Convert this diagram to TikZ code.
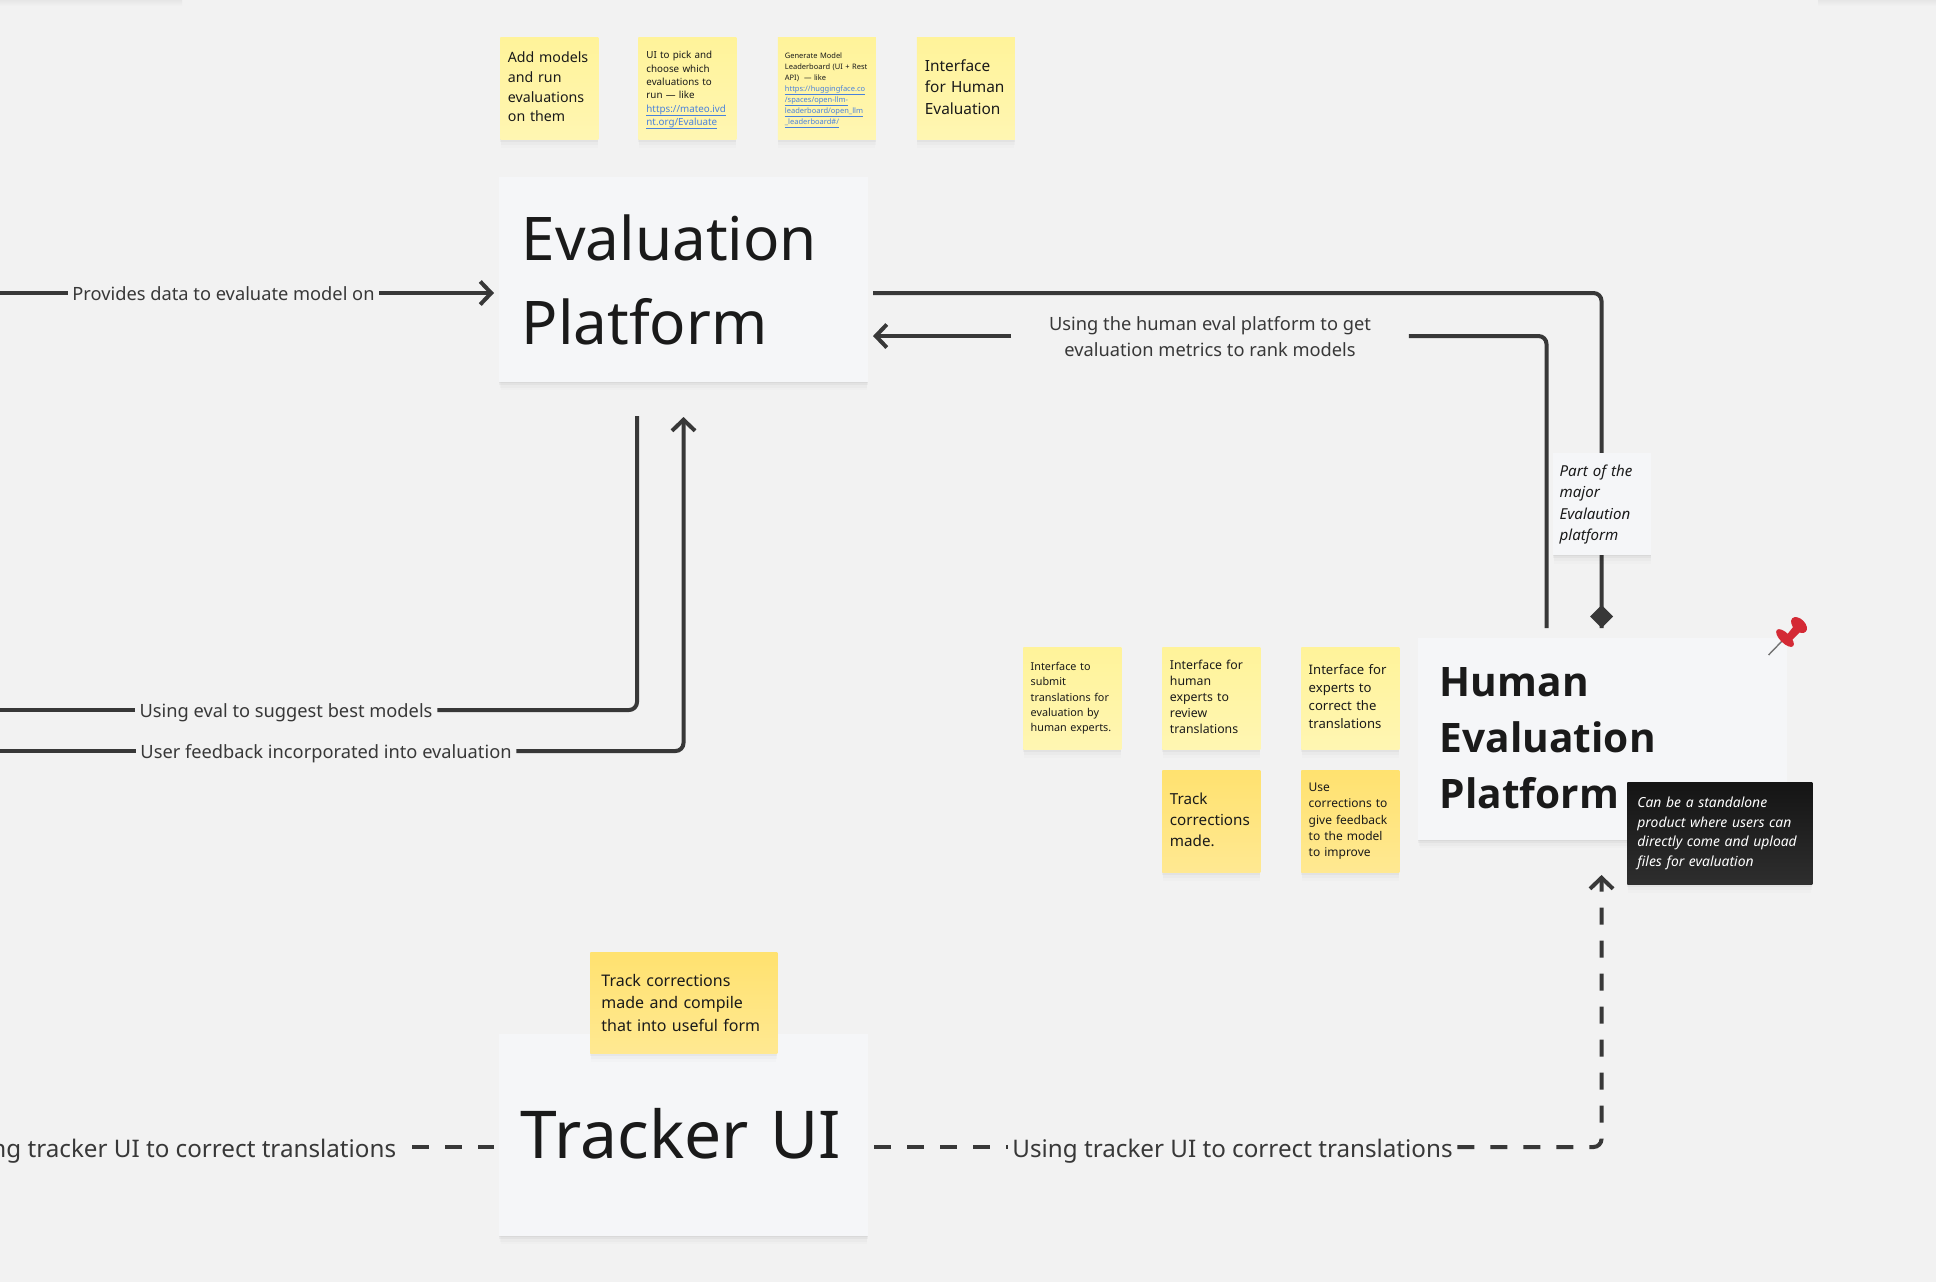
\documentclass[tikz,border=0pt]{standalone}
\usepackage{fontspec}
\setmainfont{Noto Sans}
\newfontfamily\headfont{Open Sans}
\usetikzlibrary{arrows.meta,shadows}
\definecolor{canvascol}{HTML}{F2F2F2}
\definecolor{cardcol}{HTML}{F5F6F8}
\definecolor{linecol}{HTML}{383838}
\definecolor{inkcol}{HTML}{1A1A1A}
\definecolor{linkcol}{HTML}{4A82DC}
\definecolor{stickypale}{HTML}{FFF291}
\definecolor{stickydeep}{HTML}{FFDF63}
\definecolor{pinred}{HTML}{D42A35}
\newcommand{\linktext}[1]{\textcolor{linkcol}{\smash{\underline{\smash{#1}}}}}
\newcommand{\liftend}{\endgraf\vspace{1.5pt}}
\begin{document}
\begin{tikzpicture}[
        x=0.5pt, y=-0.5pt,
        softshadow/.style={
            drop shadow={shadow xshift=0pt, shadow yshift=-0.5pt, opacity=0.035, fill=black},
            drop shadow={shadow xshift=0pt, shadow yshift=-1.5pt, opacity=0.03, fill=black},
            drop shadow={shadow xshift=0pt, shadow yshift=-3pt, shadow scale=0.995, opacity=0.02, fill=black},
            drop shadow={shadow xshift=0pt, shadow yshift=-4.5pt, shadow scale=0.99, opacity=0.012, fill=black}},
        card/.style={rectangle, anchor=north west, fill=cardcol, softshadow, text=inkcol, align=left,
            minimum width=184.5pt, minimum height=101pt, inner sep=0pt},
        sticky/.style={rectangle, anchor=north west, softshadow, text=inkcol, align=left,
            top color=#1!92!white, bottom color=#1!70!white,
            minimum width=49pt, minimum height=51pt, inner sep=0pt},
        sticky/.default=stickypale,
        lifted/.style={execute at end node=\liftend},
        flowlabel/.style={text=linecol, inner xsep=2.2pt, inner ysep=0pt},
        flow/.style={draw=linecol, line width=2pt, rounded corners=4pt, line join=round},
        openarrow/.style={-{Straight Barb[length=5.5pt, width=11.5pt, line width=2pt]}},
        dashline/.style={dash pattern=on 8.5pt off 8pt},
    ]
        \clip (0,0) rectangle (1936,1282);
        \fill[canvascol] (0,0) rectangle (1936,1282);
        \fill[top color=black!5!canvascol, bottom color=canvascol] (0,0) rectangle (182,6);
        \fill[top color=black!5!canvascol, bottom color=canvascol] (1818,0) rectangle (1936,6);

        % main boxes
        \node[card, font=\fontsize{30.1}{42}\selectfont, text width=162.2pt, minimum height=102.5pt] (eval) at (499,177)
            {Evaluation\\Platform};
        \node[card, lifted, font=\fontsize{33}{42}\selectfont, text width=163pt] (tracker) at (499,1034)
            {Tracker UI};
        \node[card, lifted, font=\fontsize{20.3}{28}\selectfont\headfont\bfseries, text width=163pt] (human) at (1418,638)
            {Human\\Evaluation\\Platform};

        % stickies above the evaluation platform
        \node[sticky, lifted, font=\fontsize{7.1}{9.9}\selectfont, text width=41.5pt] (addmodels) at (500,37)
            {Add models\\and run\\evaluations\\on them};
        \node[sticky, font=\fontsize{4.9}{6.7}\selectfont, text width=41pt] (pickui) at (638,37)
            {UI to pick and\\choose which\\evaluations to\\run — like\\\linktext{https://mateo.ivd}\\\linktext{nt.org/Evaluate}};
        \node[sticky, font=\fontsize{3.75}{5.5}\selectfont, text width=42pt] (leaderboard) at (777.5,37)
            {Generate Model\\Leaderboard (UI + Rest\\API) \ — like\\\linktext{https://huggingface.co}\\\linktext{/spaces/open-llm-}\\\linktext{leaderboard/open\_llm}\\\linktext{\_leaderboard\#/}};
        \node[sticky, lifted, font=\fontsize{7.7}{10.7}\selectfont, text width=41pt] (humaniface) at (916.5,37)
            {Interface\\for Human\\Evaluation};

        % stickies beside the human evaluation platform
        \node[sticky, font=\fontsize{5.4}{7.65}\selectfont, text width=41.7pt] (submit) at (1023,647)
            {Interface to\\submit\\translations for\\evaluation by\\human experts.};
        \node[sticky, lifted, font=\fontsize{6.15}{8.05}\selectfont, text width=41.5pt] (review) at (1162,647)
            {Interface for\\human\\experts to\\review\\translations};
        \node[sticky, lifted, font=\fontsize{6.55}{9}\selectfont, text width=41.7pt] (correct) at (1301,647)
            {Interface for\\experts to\\correct the\\translations};
        \node[sticky=stickydeep, lifted, font=\fontsize{7.6}{10.7}\selectfont, text width=41.5pt] (trackmade) at (1162,770)
            {Track\\corrections\\made.};
        \node[sticky=stickydeep, font=\fontsize{6}{8.15}\selectfont, text width=41.7pt] (feedback) at (1301,770)
            {Use\\corrections to\\give feedback\\to the model\\to improve};
        \node[sticky=stickydeep, font=\fontsize{8}{11.1}\selectfont, text width=82.5pt,
            minimum width=93.5pt, minimum height=50.5pt] (compile) at (590,952)
            {Track corrections\\made and compile\\that into useful form};

        % connector labels
        \node[flowlabel, font=\fontsize{9.13}{12}\selectfont, text height=9pt, text depth=2pt] (provides) at (223.5,293) {Provides data to evaluate model on};
        \node[flowlabel, font=\fontsize{9.13}{12}\selectfont, text height=9pt, text depth=2pt] (suggest) at (286,710) {Using eval to suggest best models};
        \node[flowlabel, font=\fontsize{9.13}{12}\selectfont, text height=9pt, text depth=2pt] (feedbacklabel) at (326,751) {User feedback incorporated into evaluation};
        \node[flowlabel, font=\fontsize{9.13}{13}\selectfont, align=center, inner xsep=18.8pt] (metrics) at (1210,337)
            {Using the human eval platform to get\\evaluation metrics to rank models};
        \node[flowlabel, font=\fontsize{12.1}{15}\selectfont, text height=12pt, text depth=2pt] (trackerleft) at (176,1147) {Using tracker UI to correct translations};
        \node[flowlabel, font=\fontsize{12.1}{15}\selectfont, text height=12pt, text depth=2pt] (trackerright) at (1232.5,1147) {Using tracker UI to correct translations};

        % free ends
        \coordinate (provideStart) at (0,293);
        \coordinate (suggestStart) at (0,710);
        \coordinate (feedbackStart) at (0,751);
        \coordinate (evalIn) at (494,293);
        \coordinate (evalOut) at (873,293);
        \coordinate (evalBack) at (873,336);
        \coordinate (evalDown) at (637,416);
        \coordinate (evalUp) at (683.5,417);
        \coordinate (humanDiamond) at (1601.5,628);
        \coordinate (humanLeft) at (1546.5,628);
        \coordinate (humanBelow) at (1601.5,875);
        \coordinate (trackerBack) at (412,1147);
        \coordinate (trackerIn) at (494,1147);
        \coordinate (trackerOut) at (874,1147);

        \draw[flow] (provideStart) -- (provides);
        \draw[flow, openarrow] (provides) -- (evalIn);
        \draw[flow] (evalOut) -| (humanDiamond);
        \fill[linecol] (humanDiamond) -- ++(-11.5,-11.5) -- ++(11.5,-11.5) -- ++(11.5,11.5) -- cycle;
        \draw[flow] (humanLeft) |- (metrics.east |- evalBack);
        \draw[flow, openarrow] (metrics.west |- evalBack) -- (evalBack);
        \draw[flow] (suggestStart) -- (suggest);
        \draw[flow] (suggest) -| (evalDown);
        \draw[flow] (feedbackStart) -- (feedbacklabel);
        \draw[flow, openarrow] (feedbacklabel) -| (evalUp);
        \draw[flow, dashline] (trackerBack) -- (trackerIn);
        \draw[flow, dashline] (trackerOut) -- (trackerright);
        \draw[flow, openarrow, dashline] (trackerright) -| (humanBelow);

        % notes on top of the connectors
        \node[card, font=\fontsize{7.55}{10.65}\selectfont\itshape, text width=42.8pt,
            minimum width=49pt, minimum height=51pt] (partnote) at (1553,453)
            {Part of the\\major\\Evalaution\\platform};
        \node[rectangle, anchor=north west, softshadow, top color=black!92, bottom color=black!82,
            text=white, align=left, inner sep=0pt, font=\fontsize{6.95}{9.85}\selectfont\itshape,
            text width=82.5pt, minimum width=92.5pt, minimum height=51pt] (standalone) at (1627,782)
            {Can be a standalone\\product where users can\\directly come and upload\\files for evaluation};

        % pin
        \draw[black!55, line width=0.7pt] (1768.5,655) -- (1783,640);
        \fill[pinred] (1782,641) -- (1797,622) -- (1803,629) -- (1787,645) -- cycle;
        \fill[pinred, rotate around={-45:(1785,638)}] (1785,638) ellipse [x radius=11.5, y radius=5];
        \fill[pinred, rotate around={-45:(1799,625)}] (1799,625) ellipse [x radius=9.5, y radius=6];
    \end{tikzpicture}
\end{document}
